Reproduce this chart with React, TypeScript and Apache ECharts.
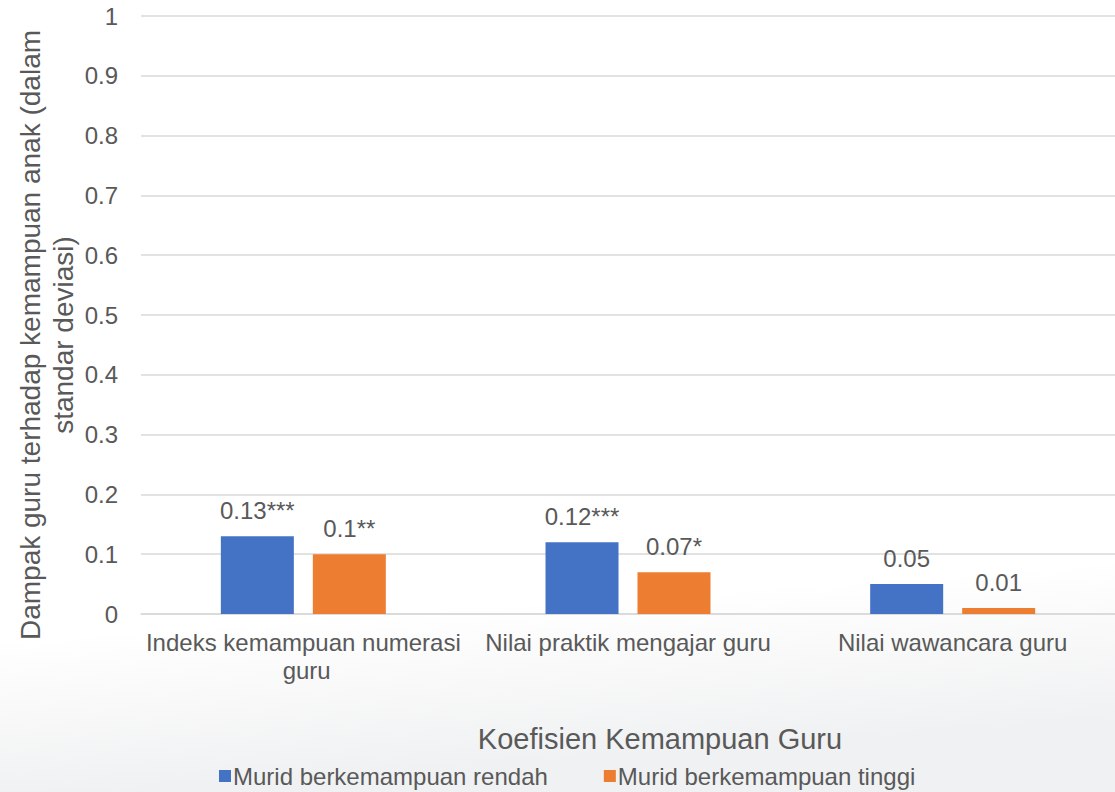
import React, { useEffect, useRef } from "react";
import * as echarts from "echarts";

const categories = [
  "Indeks kemampuan numerasi guru",
  "Nilai praktik mengajar guru",
  "Nilai wawancara guru",
];
const seriesNames = ["Murid berkemampuan rendah", "Murid berkemampuan tinggi"];
const lowValues = [0.13, 0.12, 0.05];
const highValues = [0.1, 0.07, 0.01];
const lowLabels = ["0.13***", "0.12***", "0.05"];
const highLabels = ["0.1**", "0.07*", "0.01"];
const yTitle = "Dampak guru terhadap kemampuan anak (dalam\nstandar deviasi)";
const xTitle = "Koefisien Kemampuan Guru";

const FONT = "'Liberation Sans', Arial, sans-serif";
const TXT = "#595959";

export default function App() {
  const ref = useRef<HTMLDivElement>(null);
  useEffect(() => {
    if (!ref.current) return;
    const chart = echarts.init(ref.current, null, { renderer: "svg" });
    const mkLabel = (labels: string[]) => ({
      show: true,
      position: "top",
      distance: 14,
      color: TXT,
      fontFamily: FONT,
      fontSize: 24,
      formatter: (p: any) => labels[p.dataIndex],
    });
    chart.setOption({
      animation: false,
      backgroundColor: new echarts.graphic.LinearGradient(0, 0, 0.1, 1, [
        { offset: 0, color: "#ffffff" },
        { offset: 0.8, color: "#ffffff" },
        { offset: 1, color: "#f0f1f2" },
      ]),
      textStyle: { fontFamily: FONT },
      grid: { left: 141, width: 982, top: 16, bottom: 178, containLabel: false },
      legend: {
        left: 219,
        top: 764,
        padding: 0,
        itemWidth: 12,
        itemHeight: 12,
        itemGap: 56,
        icon: "rect",
        textStyle: { color: TXT, fontSize: 24, fontFamily: FONT, padding: [0, 0, 0, -3] },
        data: seriesNames,
      },
      xAxis: {
        type: "category",
        data: categories,
        axisLine: { show: true, lineStyle: { color: "#D9D9D9", width: 1.5 } },
        axisTick: { show: false },
        axisLabel: {
          interval: 0,
          color: TXT,
          fontSize: 24,
          fontFamily: FONT,
          margin: 14,
          width: 320,
          overflow: "break",
          lineHeight: 28,
        },
      },
      yAxis: {
        type: "value",
        min: 0,
        max: 1,
        interval: 0.1,
        axisLine: { show: false },
        axisTick: { show: false },
        splitLine: { lineStyle: { color: "#D9D9D9", width: 1.5 } },
        axisLabel: {
          color: TXT,
          fontSize: 24,
          fontFamily: FONT,
          margin: 23,
          formatter: (v: number) => String(Math.round(v * 10) / 10),
        },
      },
      series: [
        {
          name: seriesNames[0],
          type: "bar",
          data: lowValues,
          barWidth: 73,
          barGap: "26%",
          itemStyle: { color: "#4472C4" },
          label: mkLabel(lowLabels),
        },
        {
          name: seriesNames[1],
          type: "bar",
          data: highValues,
          barWidth: 73,
          itemStyle: { color: "#ED7D31" },
          label: mkLabel(highLabels),
        },
      ],
      graphic: [
        {
          type: "text",
          x: 47,
          y: 335,
          rotation: Math.PI / 2,
          style: {
            text: yTitle,
            fill: TXT,
            fontSize: 28,
            fontFamily: FONT,
            align: "center",
            verticalAlign: "middle",
            lineHeight: 33,
          },
        },
        {
          type: "text",
          x: 660,
          y: 739,
          style: {
            text: xTitle,
            fill: TXT,
            fontSize: 29,
            fontFamily: FONT,
            align: "center",
            verticalAlign: "middle",
          },
        },
      ],
    });
    return () => chart.dispose();
  }, []);
  return (
    <div
      ref={ref}
      style={{ position: "absolute", left: 0, top: 0, width: 1115, height: 792 }}
    />
  );
}
